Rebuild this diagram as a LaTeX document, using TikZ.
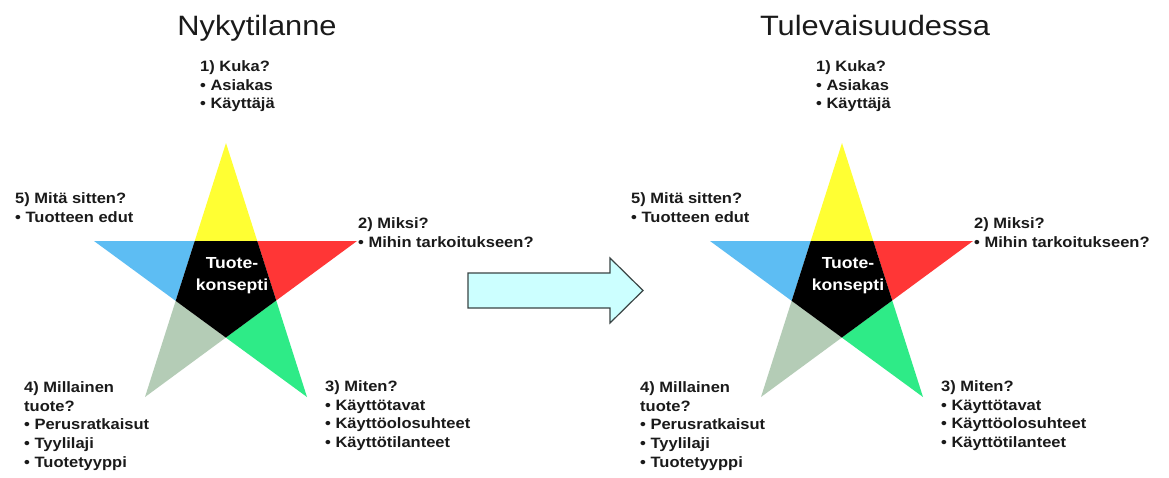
\documentclass[tikz,border=0pt]{standalone}
\usepackage{fontspec}
\setmainfont{Liberation Sans}
\newfontfamily\widesans[FakeStretch=1.1]{Liberation Sans}

\definecolor{armyellow}{HTML}{FFFF33}
\definecolor{armred}{HTML}{FF3636}
\definecolor{armgreen}{HTML}{2EEB87}
\definecolor{armgray}{HTML}{B4CCB6}
\definecolor{armblue}{HTML}{5DBDF3}
\definecolor{arrowfill}{HTML}{CCFFFF}
\definecolor{arrowline}{HTML}{3A4545}
\definecolor{inkblack}{HTML}{1A1A1A}

% one five-armed concept star with its five question labels
% #1 = name prefix, #2 = x position of the star centre
\newcommand{\conceptstar}[2]{%
  \begin{scope}[shift={(#2,0)}]
    \coordinate (#1T)  at (0,143);
    \coordinate (#1R)  at (131,241);
    \coordinate (#1BR) at (81,397);
    \coordinate (#1BL) at (-81,397);
    \coordinate (#1L)  at (-132,241);
    \coordinate (#1iTL) at (intersection of #1L--#1R and #1T--#1BL);
    \coordinate (#1iTR) at (intersection of #1L--#1R and #1T--#1BR);
    \coordinate (#1iR)  at (intersection of #1T--#1BR and #1R--#1BL);
    \coordinate (#1iB)  at (intersection of #1L--#1BR and #1R--#1BL);
    \coordinate (#1iL)  at (intersection of #1T--#1BL and #1L--#1BR);
    \fill[armyellow] (#1T)  -- (#1iTR) -- (#1iTL) -- cycle;
    \fill[armred]    (#1R)  -- (#1iR)  -- (#1iTR) -- cycle;
    \fill[armgreen]  (#1BR) -- (#1iB)  -- (#1iR)  -- cycle;
    \fill[armgray]   (#1BL) -- (#1iL)  -- (#1iB)  -- cycle;
    \fill[armblue]   (#1L)  -- (#1iTL) -- (#1iL)  -- cycle;
    \fill[black] (#1iTL) -- (#1iTR) -- (#1iR) -- (#1iB) -- (#1iL) -- cycle;
    \node[coretext] (#1core) at (6,276) {Tuote-\\konsepti};
    \node[qlabel] (#1who)  at (-26,60.5)  {1) Kuka?\\• Asiakas\\• Käyttäjä};
    \node[qlabel] (#1why)  at (132,217.5) {2) Miksi?\\• Mihin tarkoitukseen?};
    \node[qlabel] (#1how)  at (99,380.5)  {3) Miten?\\• Käyttötavat\\• Käyttöolosuhteet\\• Käyttötilanteet};
    \node[qlabel] (#1what) at (-202,381.5) {4) Millainen\\tuote?\\• Perusratkaisut\\• Tyylilaji\\• Tuotetyyppi};
    \node[qlabel] (#1then) at (-211,192.5) {5) Mitä sitten?\\• Tuotteen edut};
  \end{scope}}

\begin{document}
\begin{tikzpicture}[x=1pt,y=-1pt,
  qlabel/.style={anchor=north west, align=left, inner sep=0pt, text=inkblack,
    font=\widesans\bfseries\fontsize{15}{18.7}\selectfont},
  coretext/.style={align=center, inner sep=0pt, text=white,
    font=\widesans\bfseries\fontsize{16}{22}\selectfont},
  heading/.style={anchor=base, inner sep=0pt, text=inkblack,
    font=\widesans\fontsize{28}{32}\selectfont},
  blockarrow/.style={fill=arrowfill, draw=arrowline, line width=1.2pt, line join=miter}]
  \useasboundingbox (0,0) rectangle (1169,477);
  \fill[white] (0,0) rectangle (1169,477);

  \node[heading] (nowtitle) at (257,35) {Nykytilanne};
  \node[heading] (futuretitle) at (875,35) {Tulevaisuudessa};

  \conceptstar{now}{226}
  \conceptstar{fut}{842}

  % transition arrow between the two stars
  \path[blockarrow] (468,273) -- (610,273) -- (610,258) -- (643,290.5)
    -- (610,323) -- (610,308) -- (468,308) -- cycle;
\end{tikzpicture}
\end{document}
